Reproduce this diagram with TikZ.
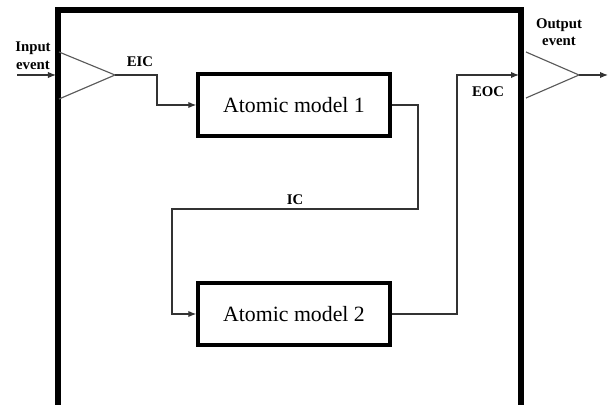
\documentclass[tikz,border=0pt]{standalone}
\usepackage{fontspec}
\setmainfont{Liberation Serif}
\usetikzlibrary{arrows.meta,positioning}
\tikzset{
  amod/.style={rectangle,draw=black,line width=2.4pt,fill=white,minimum width=4.8cm,minimum height=1.55cm,inner sep=0pt,font=\fontsize{15.5}{18}\selectfont},
  cpl/.style={draw=black,line width=3.6pt},
  prt/.style={draw=black!65,line width=.8pt},
  lnk/.style={draw=black!80,line width=.9pt},
  msg/.style={-{Latex[length=2mm,width=1.6mm]},line width=.9pt,draw=black!80},
  lb/.style={font=\bfseries\fontsize{10.5}{12.5}\selectfont,align=center,inner sep=0pt},
}

\begin{document}
\begin{tikzpicture}[x=0.025cm,y=-0.025cm]
\useasboundingbox (0,0) rectangle (613,405);
% ---- coupled model frame
\draw[cpl] (58,405)--(58,10)--(521,10)--(521,405);
% ---- atomic models
\node[amod] (m1) at (294,105) {Atomic model 1};
\node[amod] (m2) at (294,314) {Atomic model 2};
% ---- input and output ports
\coordinate (pin) at (115,75);
\coordinate (pout) at (579,75);
\draw[prt] (59,52)--(pin)--(59,99);
\draw[prt] (526,52)--(pout)--(526,98);
\coordinate (src) at (17,75);  \coordinate (fin) at (56,75);
\coordinate (dst) at (608,75);
\draw[msg] (src)--(fin);
\draw[msg] (pout)--(dst);
% ---- couplings
\coordinate (eic) at (157,75);
\coordinate (ic1) at (418,209); \coordinate (ic2) at (172,209);
\coordinate (eoc) at (457,75);  \coordinate (oin) at (519,75);
\draw[msg] (pin)--(eic)|-(m1.west);
\draw[msg] (m1.east)-|(ic1)--(ic2)|-(m2.west);
\draw[msg] (m2.east)-|(eoc)--(oin);
% ---- labels
\node[lb] at (33,56) {Input\\event};
\node[lb] at (559,32) {Output\\event};
\node[lb] at (140,62) {EIC};
\node[lb] at (295,200) {IC};
\node[lb] at (488,92) {EOC};
\end{tikzpicture}
\end{document}
